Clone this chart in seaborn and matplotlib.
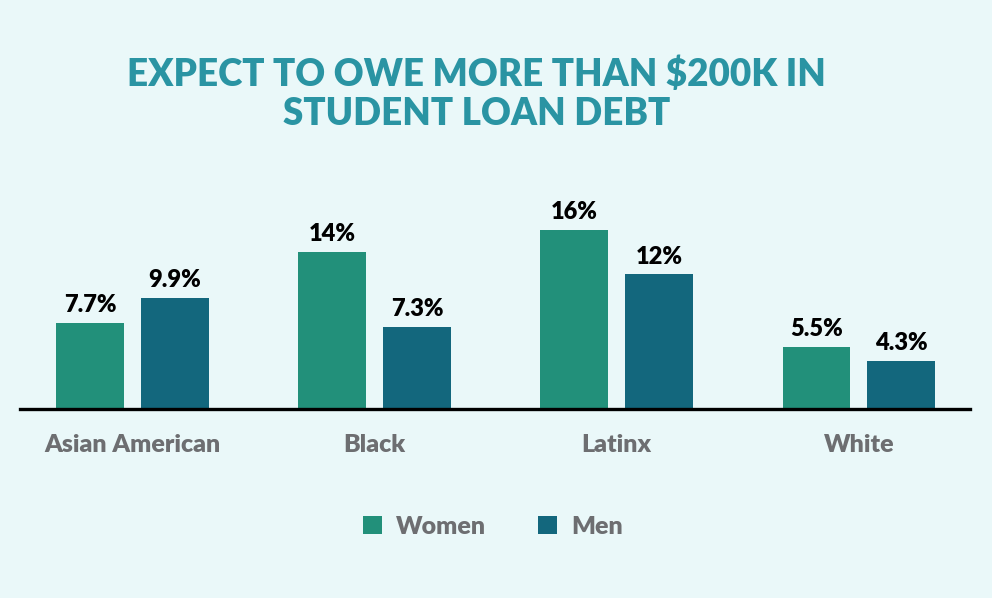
import pandas as pd
import seaborn as sns
import matplotlib.pyplot as plt

# data
groups = ["Asian American", "Black", "Latinx", "White"]
women = [7.7, 14, 16, 5.5]
men = [9.9, 7.3, 12, 4.3]

bg = "#EAF8F9"
col_women = "#22907A"
col_men = "#13677D"
grey = "#6D6E71"

df = pd.DataFrame({
    "group": groups * 2,
    "gender": ["Women"] * len(groups) + ["Men"] * len(groups),
    "value": women + men,
})

sns.set_theme(style="white")
plt.rcParams["font.family"] = ["Lato", "DejaVu Sans"]

fig = plt.figure(figsize=(9.92, 5.98), dpi=100, facecolor=bg)
ax = fig.add_axes([0.02, 0.316, 0.958, 0.375])
ax.set_facecolor(bg)

sns.barplot(data=df, x="group", y="value", hue="gender",
            palette={"Women": col_women, "Men": col_men},
            width=0.7, gap=0.2, ax=ax, legend=True, saturation=1,
            linewidth=0)

# value labels
for cont in ax.containers:
    ax.bar_label(cont, labels=[f"{b.get_height():g}%" for b in cont],
                 padding=5, fontsize=17, fontweight="heavy", color="black")

ax.set_xlim(-0.465, 3.46)
ax.set_ylim(0, 20)
ax.set_xlabel("")
ax.set_ylabel("")
ax.set_yticks([])
ax.tick_params(axis="x", length=0, pad=18, labelsize=18, labelcolor=grey)
for lbl in ax.get_xticklabels():
    lbl.set_fontweight("heavy")

for s in ["top", "left", "right"]:
    ax.spines[s].set_visible(False)
ax.spines["bottom"].set_color("black")
ax.spines["bottom"].set_linewidth(2.4)

# legend
handles, labels = ax.get_legend_handles_labels()
ax.legend(handles, labels, loc="center", bbox_to_anchor=(0.497, 0.119),
          bbox_transform=fig.transFigure, ncol=2, frameon=False,
          handlelength=0.75, handleheight=0.75, handletextpad=0.55,
          columnspacing=2.1, prop={"size": 18, "weight": "heavy"},
          labelcolor=grey)

# title
fig.text(0.48, 0.875, "EXPECT TO OWE MORE THAN $200K IN",
         ha="center", va="center", fontsize=26.5, fontweight="heavy",
         color="#2A94A3")
fig.text(0.48, 0.81, "STUDENT LOAN DEBT",
         ha="center", va="center", fontsize=26.5, fontweight="heavy",
         color="#2A94A3")

plt.savefig("out.png", dpi=100, facecolor=bg)
